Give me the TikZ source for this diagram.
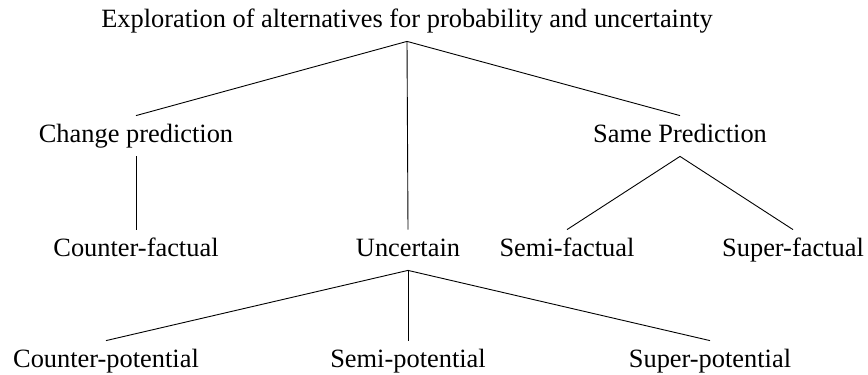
\documentclass[tikz,border=0pt]{standalone}
\usepackage{fontspec}
\setmainfont{Liberation Serif}
\usepackage{tikz}
\tikzset{
  term/.style={font=\fontsize{13.2}{16}\selectfont, anchor=base, inner xsep=2pt, inner ysep=4pt, text height=9pt, text depth=3pt},
  branch/.style={draw, line width=0.45pt, line join=miter},
}
\begin{document}
\begin{tikzpicture}[x=0.5pt, y=-0.5pt]
  \useasboundingbox (0,0) rectangle (868,375);
  \node[term] (root)  at (407,27)  {Exploration of alternatives for probability and uncertainty};
  \node[term] (chg)   at (136,142) {Change prediction};
  \node[term] (same)  at (680,142) {Same Prediction};
  \node[term] (cfact) at (136,256) {Counter-factual};
  \node[term] (unc)   at (408,256) {Uncertain};
  \node[term] (sfact) at (567,256) {Semi-factual};
  \node[term] (pfact) at (793,256) {Super-factual};
  \node[term] (cpot)  at (106,367) {Counter-potential};
  \node[term] (spot)  at (408,367) {Semi-potential};
  \node[term] (ppot)  at (710,367) {Super-potential};

  \draw[branch] (chg.north) -- (root.south) -- (same.north);
  \draw[branch] (root.south) -- (unc.north);
  \draw[branch] (chg.south) -- (cfact.north);
  \draw[branch] (sfact.north) -- (same.south) -- (pfact.north);
  \draw[branch] (cpot.north) -- (unc.south) -- (ppot.north);
  \draw[branch] (unc.south) -- (spot.north);
\end{tikzpicture}
\end{document}
